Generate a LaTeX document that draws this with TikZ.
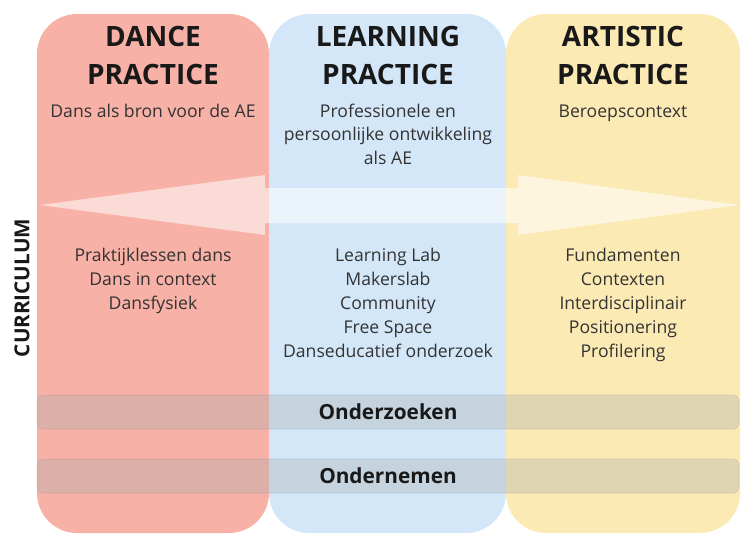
\documentclass[tikz,border=0pt]{standalone}
\usepackage{fontspec}
\setmainfont{Open Sans}
\definecolor{dancered}{HTML}{F8B1A6}
\definecolor{learnblue}{HTML}{D4E7F8}
\definecolor{artyellow}{HTML}{FCEAB5}
\definecolor{bandgrey}{RGB}{168,176,174}
\definecolor{textgrey}{HTML}{333333}
\tikzset{
  column/.style={rounded corners=30pt},
  title/.style={align=center, anchor=base, text=black!90, font=\fontsize{21}{28.5}\selectfont\bfseries},
  subtitle/.style={align=center, anchor=base, text=textgrey, font=\fontsize{13.2}{17.5}\selectfont},
  items/.style={align=center, anchor=base, text=textgrey, font=\fontsize{13.2}{18}\selectfont},
  band/.style={fill=bandgrey, fill opacity=0.35, draw=bandgrey!80!black, draw opacity=0.25, rounded corners=4pt},
  bandlabel/.style={text=black!90, font=\fontsize{15.6}{18}\selectfont\bfseries}
}
\begin{document}
\begin{tikzpicture}[x=0.75pt,y=-0.75pt]
  \useasboundingbox[fill=white] (0,0) rectangle (741,543);
  \fill[column, dancered] (37,14) rectangle (269,533);
  \fill[column, learnblue] (269,14) rectangle (506,533);
  \fill[column, artyellow] (506,14) rectangle (740,533);
  \fill[white, fill opacity=0.55] (40,205) -- (265,175) -- (265,188) -- (518,188) -- (518,175)
    -- (739,205) -- (518,235) -- (518,223) -- (265,223) -- (265,235) -- cycle;
  \draw[band] (37,395) rectangle (739,429);
  \draw[band] (37,459) rectangle (739,493);
  \node [title] (dance) at (153,84) {DANCE\\PRACTICE};
  \node [title] (learning) at (388,84) {LEARNING\\PRACTICE};
  \node [title] (artistic) at (623,84) {ARTISTIC\\PRACTICE};
  \node [subtitle] (dancesub) at (153,117) {Dans als bron voor de AE};
  \node [subtitle] (learningsub) at (388,164) {Professionele en\\persoonlijke ontwikkeling\\als AE};
  \node [subtitle] (artisticsub) at (623,117) {Beroepscontext};
  \node [items] (danceitems) at (153,309) {Praktijklessen dans\\Dans in context\\Dansfysiek};
  \node [items] (learningitems) at (388,357) {Learning Lab\\Makerslab\\Community\\Free Space\\Danseducatief onderzoek};
  \node [items] (artisticitems) at (623,357) {Fundamenten\\Contexten\\Interdisciplinair\\Positionering\\Profilering};
  \node [rotate=90, text=black!90, font=\fontsize{15.5}{18}\selectfont\bfseries] (curriculum) at (22,288) {CURRICULUM};
  \node [bandlabel] (onderzoeken) at (388,412) {Onderzoeken};
  \node [bandlabel] (ondernemen) at (388,476) {Ondernemen};
\end{tikzpicture}
\end{document}
